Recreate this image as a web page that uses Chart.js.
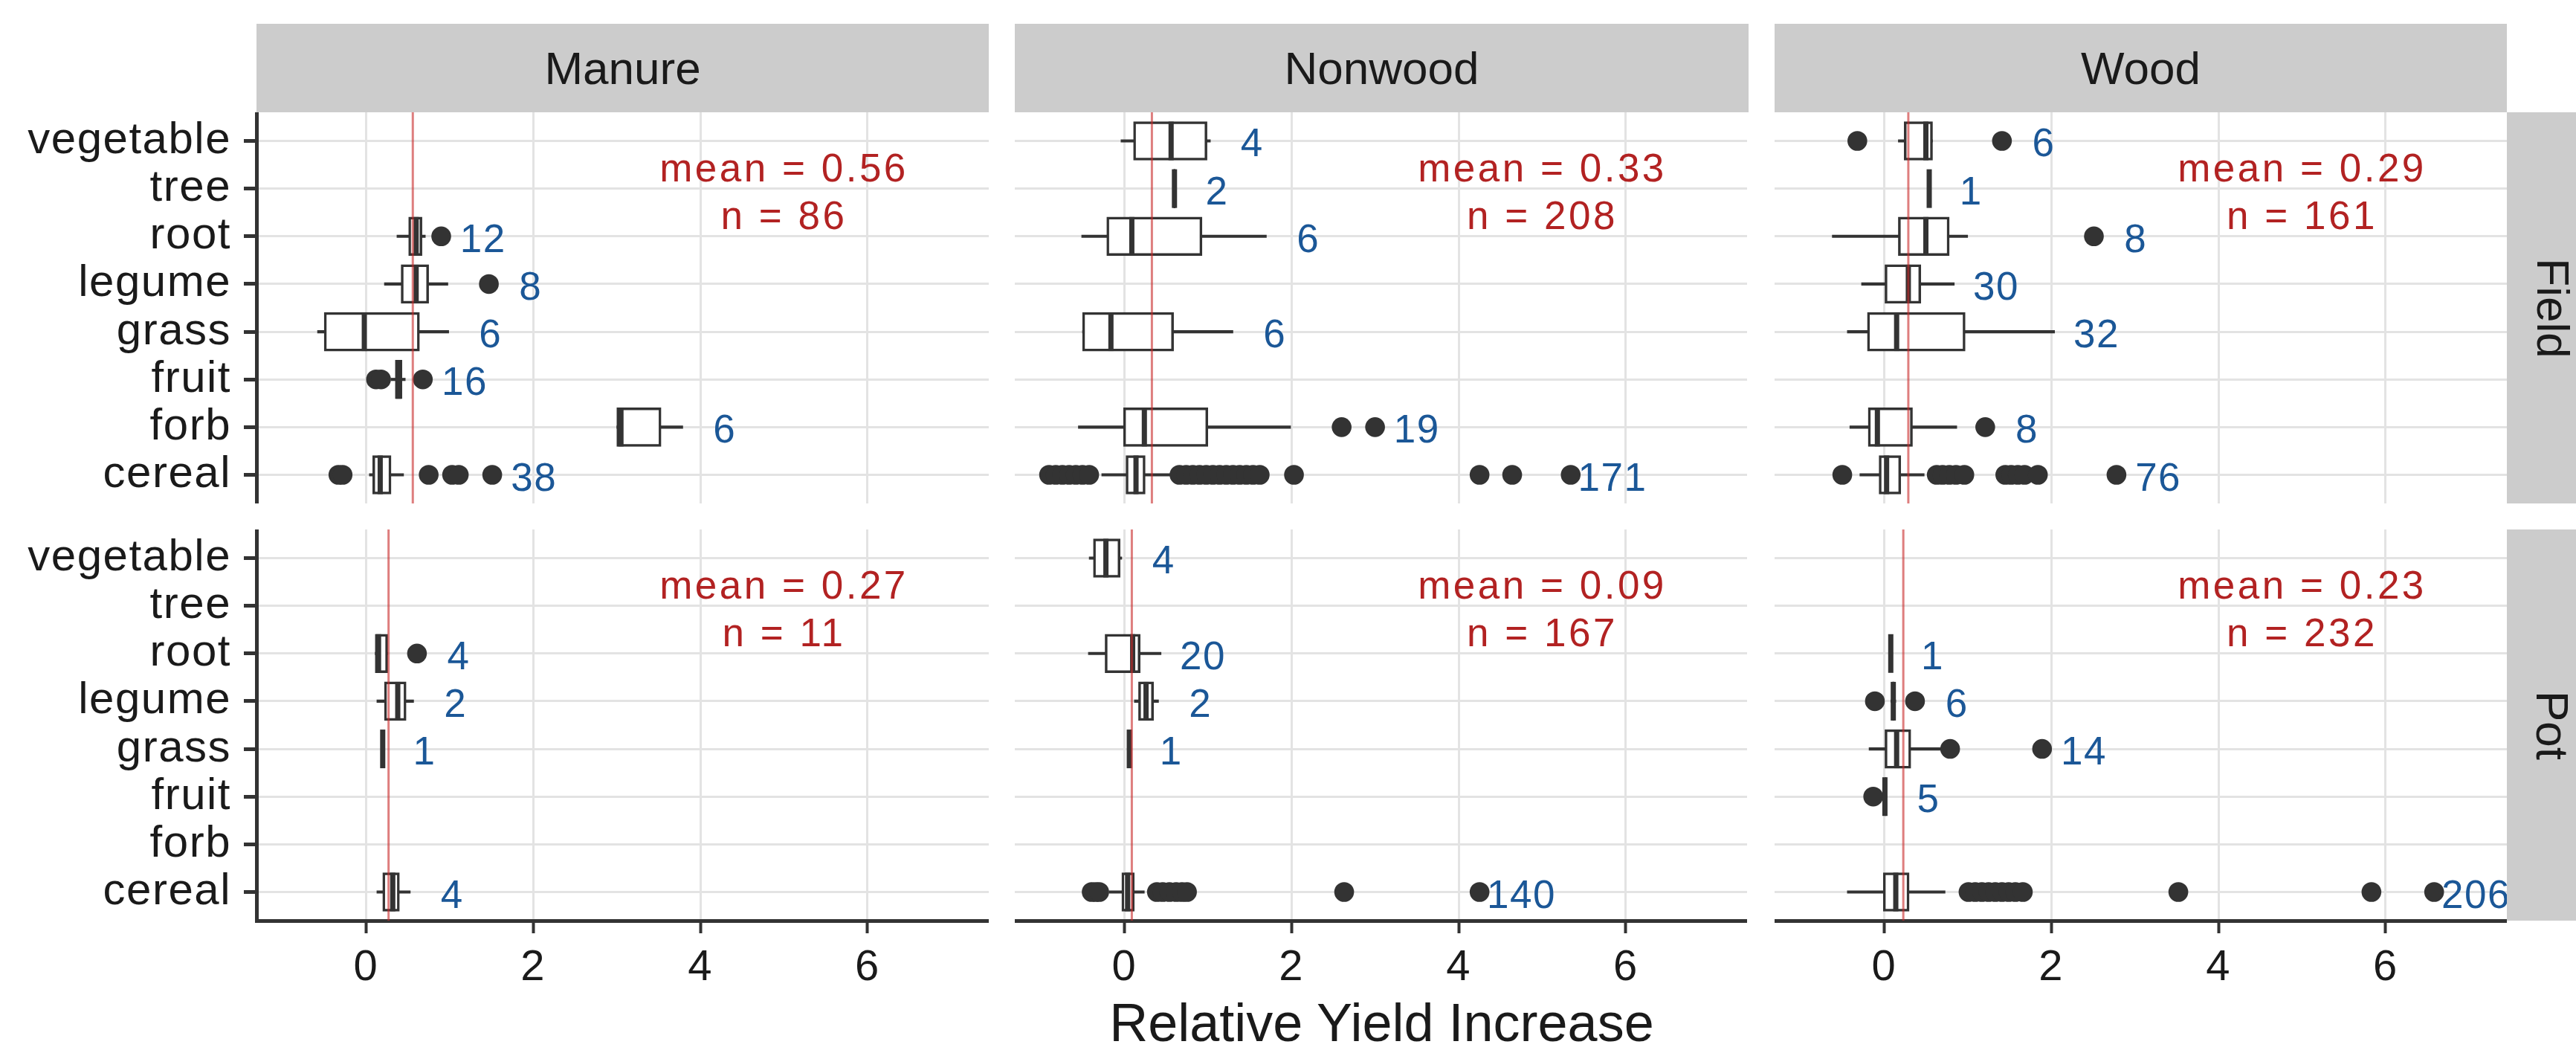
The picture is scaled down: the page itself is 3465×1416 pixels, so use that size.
<!DOCTYPE html>
<html>
<head>
<meta charset="utf-8">
<title>Relative Yield Increase</title>
<script src="https://cdn.jsdelivr.net/npm/chart.js@4.4.1/dist/chart.umd.min.js"></script>
<style>
  html, body { margin: 0; padding: 0; background: #ffffff; }
  body {
    width: 3465px; height: 1416px; position: relative; overflow: hidden;
    font-family: "Liberation Sans", Arial, Helvetica, sans-serif; color: #1a1a1a;
  }
  .panel { position: absolute; }
  .strip {
    position: absolute; background: #cccccc; color: #1a1a1a;
    display: flex; align-items: center; justify-content: center;
    font-size: 62px; white-space: nowrap;
  }
  .strip.side span { display: inline-block; transform: rotate(90deg); }
  #xtitle {
    position: absolute; left: 345px; width: 3027px; top: 1339px;
    text-align: center; font-size: 72px; line-height: 72px; color: #1a1a1a;
  }
</style>
</head>
<body>

<div class="strip" style="left:345px; top:32px; width:985px; height:119px;">Manure</div>
<div class="strip" style="left:1365px; top:32px; width:987px; height:119px;">Nonwood</div>
<div class="strip" style="left:2387px; top:32px; width:985px; height:119px;">Wood</div>
<div class="strip side" style="left:3372px; top:151px; width:124px; height:526px;"><span>Field</span></div>
<div class="strip side" style="left:3372px; top:712px; width:124px; height:526px;"><span>Pot</span></div>

<div class="panel" style="left:0px; top:151px; width:1330px; height:526px;"><canvas id="fieldManure"></canvas></div>
<div class="panel" style="left:1365px; top:151px; width:985px; height:526px;"><canvas id="fieldNonwood"></canvas></div>
<div class="panel" style="left:2387px; top:151px; width:985px; height:526px;"><canvas id="fieldWood"></canvas></div>
<div class="panel" style="left:0px; top:712px; width:1330px; height:626px;"><canvas id="potManure"></canvas></div>
<div class="panel" style="left:1365px; top:712px; width:985px; height:626px;"><canvas id="potNonwood"></canvas></div>
<div class="panel" style="left:2387px; top:712px; width:985px; height:626px;"><canvas id="potWood"></canvas></div>

<div id="xtitle">Relative Yield Increase</div>

<script>
// crop types, bottom to top
var categories = ['cereal', 'forb', 'fruit', 'grass', 'legume', 'root', 'tree', 'vegetable'];
var amendments = ['Manure', 'Nonwood', 'Wood'];
var settings = ['Field', 'Pot'];
var xTicks = [0, 2, 4, 6];

var fieldMeans = [0.56, 0.33, 0.29];
var potMeans = [0.27, 0.09, 0.23];
var fieldTotals = [86, 208, 161];
var potTotals = [11, 167, 232];

// row: crop, whisker low, q1, median, q3, whisker high, n, outliers
var fieldManure = [
  ['root', 0.37, 0.51, 0.60, 0.67, 0.71, 12, [0.90]],
  ['legume', 0.22, 0.42, 0.60, 0.75, 0.98, 8, [1.47]],
  ['grass', -0.58, -0.50, -0.02, 0.64, 0.99, 6, []],
  ['fruit', 0.30, 0.35, 0.39, 0.43, 0.47, 16, [0.12, 0.18, 0.68]],
  ['forb', 3.00, 3.00, 3.05, 3.53, 3.79, 6, []],
  ['cereal', 0.04, 0.08, 0.17, 0.30, 0.45, 38, [-0.33, -0.28, 0.75, 1.03, 1.11, 1.51]]
];
var fieldNonwood = [
  ['vegetable', -0.04, 0.11, 0.56, 0.99, 1.03, 4, []],
  ['tree', 0.59, 0.59, 0.60, 0.61, 0.61, 2, []],
  ['root', -0.51, -0.21, 0.09, 0.93, 1.70, 6, []],
  ['grass', -0.50, -0.50, -0.16, 0.59, 1.30, 6, []],
  ['forb', -0.55, -0.01, 0.24, 1.00, 1.99, 19, [2.60, 3.00]],
  ['cereal', -0.27, 0.02, 0.14, 0.25, 0.57, 171,
    [-0.90, -0.82, -0.74, -0.66, -0.58, -0.50, -0.42, 0.66, 0.74, 0.82, 0.90, 0.98,
     1.06, 1.14, 1.22, 1.30, 1.38, 1.46, 1.54, 1.62, 2.03, 4.25, 4.64, 5.34]]
];
var fieldWood = [
  ['vegetable', 0.17, 0.24, 0.50, 0.58, 0.58, 6, [-0.32, 1.41]],
  ['tree', 0.54, 0.54, 0.54, 0.54, 0.54, 1, []],
  ['root', -0.62, 0.17, 0.50, 0.78, 1.00, 8, [2.51]],
  ['legume', -0.27, 0.01, 0.29, 0.44, 0.84, 30, []],
  ['grass', -0.44, -0.20, 0.15, 0.97, 2.04, 32, []],
  ['forb', -0.41, -0.19, -0.08, 0.34, 0.87, 8, [1.21]],
  ['cereal', -0.29, -0.06, 0.03, 0.20, 0.48, 76,
    [-0.50, 0.63, 0.70, 0.78, 0.86, 0.96, 1.45, 1.52, 1.60, 1.68, 1.84, 2.78]]
];
var potManure = [
  ['root', 0.11, 0.11, 0.15, 0.26, 0.26, 4, [0.61]],
  ['legume', 0.13, 0.22, 0.38, 0.48, 0.57, 2, []],
  ['grass', 0.20, 0.20, 0.20, 0.20, 0.20, 1, []],
  ['cereal', 0.13, 0.20, 0.32, 0.40, 0.53, 4, []]
];
var potNonwood = [
  ['vegetable', -0.42, -0.37, -0.22, -0.05, -0.03, 4, []],
  ['root', -0.43, -0.23, 0.10, 0.19, 0.44, 20, []],
  ['legume', 0.12, 0.17, 0.26, 0.35, 0.41, 2, []],
  ['grass', 0.06, 0.06, 0.06, 0.06, 0.06, 1, []],
  ['cereal', -0.18, -0.03, 0.04, 0.12, 0.24, 140,
    [-0.39, -0.34, -0.30, 0.39, 0.46, 0.54, 0.62, 0.69, 0.75, 2.63, 4.25]]
];
var potWood = [
  ['root', 0.08, 0.08, 0.08, 0.08, 0.08, 1, []],
  ['legume', 0.08, 0.10, 0.11, 0.12, 0.14, 6, [-0.11, 0.37]],
  ['grass', -0.18, 0.01, 0.15, 0.32, 0.70, 14, [0.79, 1.89]],
  ['fruit', 0.00, 0.00, 0.01, 0.02, 0.03, 5, [-0.13]],
  ['cereal', -0.44, -0.01, 0.14, 0.30, 0.73, 206,
    [1.01, 1.09, 1.17, 1.25, 1.33, 1.41, 1.49, 1.57, 1.66, 3.52, 5.83, 6.58]]
];

var fontFamily = '"Liberation Sans", Arial, Helvetica, sans-serif';
var axisColor = '#333333';
var gridColor = '#e3e3e3';
var boxColor = '#333333';
var countColor = '#1b5797';
var meanColor = '#b22222';
var xMin = -1.31, xMax = 7.45;
var yMin = 0.4, yMax = 8.6;

Chart.defaults.font.family = fontFamily;

function catPos(name) {
  return categories.indexOf(name) + 1;
}

// slightly looser letter spacing, as in the original device fonts
var looseText = {
  id: 'looseText',
  beforeDraw: function (chart) {
    chart.ctx.letterSpacing = '1.5px';
  }
};

// counts next to each box and the mean / n note
var panelText = {
  id: 'panelText',
  afterDatasetsDraw: function (chart, args, opts) {
    var ctx = chart.ctx;
    var xs = chart.scales.x;
    var ys = chart.scales.y;
    ctx.save();
    ctx.textAlign = 'center';
    ctx.textBaseline = 'alphabetic';

    ctx.font = '53px ' + fontFamily;
    ctx.letterSpacing = '1.5px';
    ctx.fillStyle = countColor;
    opts.rows.forEach(function (r) {
      var top = Math.max.apply(null, [r[5]].concat(r[7]));
      ctx.fillText(String(r[6]), xs.getPixelForValue(top + 0.5), ys.getPixelForValue(catPos(r[0])) + 21);
    });

    ctx.font = '53px ' + fontFamily;
    ctx.letterSpacing = '3.5px';
    ctx.fillStyle = meanColor;
    var mx = xs.getPixelForValue(5);
    var my = ys.getPixelForValue(catPos('tree'));
    ctx.fillText('mean = ' + opts.mean.toFixed(2), mx, my - 10);
    ctx.fillText('n = ' + opts.total, mx, my + 54);
    ctx.restore();
  }
};

function makePanel(canvasId, rows, mean, total, isLeft, isBottom) {
  var whiskers = rows.map(function (r) { return { y: catPos(r[0]), x: [r[1], r[5]] }; });
  var boxes = rows.map(function (r) { return { y: catPos(r[0]), x: [r[2], r[4]] }; });
  var medians = rows.map(function (r) { return { x: r[3], y: catPos(r[0]) }; });
  var outliers = [];
  rows.forEach(function (r) {
    r[7].forEach(function (v) { outliers.push({ x: v, y: catPos(r[0]) }); });
  });

  var ctx = document.getElementById(canvasId).getContext('2d');
  return new Chart(ctx, {
    type: 'scatter',
    data: {
      datasets: [
        {
          type: 'scatter',
          label: 'mean',
          data: [{ x: mean, y: yMin }, { x: mean, y: yMax }],
          showLine: true,
          borderColor: 'rgba(200, 40, 40, 0.6)',
          borderWidth: 3,
          pointRadius: 0,
          order: 0
        },
        {
          type: 'scatter',
          label: 'outliers',
          data: outliers,
          pointRadius: 13.3,
          pointBackgroundColor: boxColor,
          pointBorderWidth: 0,
          order: 1
        },
        {
          type: 'scatter',
          label: 'median',
          data: medians,
          pointStyle: 'line',
          pointRotation: 90,
          pointRadius: 26,
          pointBorderColor: boxColor,
          pointBorderWidth: 7,
          order: 2
        },
        {
          type: 'bar',
          label: 'box',
          indexAxis: 'y',
          data: boxes,
          backgroundColor: '#ffffff',
          borderColor: boxColor,
          borderWidth: 3.5,
          borderSkipped: false,
          barThickness: 52,
          grouped: false,
          order: 3
        },
        {
          type: 'bar',
          label: 'whisker',
          indexAxis: 'y',
          data: whiskers,
          backgroundColor: boxColor,
          borderWidth: 0,
          barThickness: 3.5,
          grouped: false,
          order: 4
        }
      ]
    },
    options: {
      responsive: true,
      maintainAspectRatio: false,
      animation: false,
      events: [],
      layout: { padding: 0, autoPadding: false },
      plugins: {
        legend: { display: false },
        tooltip: { enabled: false },
        panelText: { rows: rows, mean: mean, total: total }
      },
      scales: {
        x: {
          type: 'linear',
          position: 'bottom',
          min: xMin,
          max: xMax,
          bounds: 'data',
          offset: false,
          afterBuildTicks: function (scale) {
            scale.ticks = xTicks.map(function (v) { return { value: v }; });
          },
          afterFit: function (scale) {
            scale.height = isBottom ? 100 : 0;
            scale.paddingLeft = 0;
            scale.paddingRight = 0;
          },
          grid: {
            color: gridColor,
            lineWidth: 3,
            offset: false,
            drawTicks: isBottom,
            tickLength: 17,
            tickColor: axisColor,
            tickWidth: 4
          },
          border: { display: isBottom, color: axisColor, width: 5 },
          ticks: {
            display: isBottom,
            autoSkip: false,
            maxRotation: 0,
            padding: 12,
            color: '#1a1a1a',
            font: { size: 58 }
          }
        },
        y: {
          type: 'linear',
          position: 'left',
          min: yMin,
          max: yMax,
          bounds: 'data',
          offset: false,
          afterBuildTicks: function (scale) {
            scale.ticks = categories.map(function (c, i) { return { value: i + 1 }; });
          },
          afterFit: function (scale) {
            scale.width = isLeft ? 345 : 0;
            scale.paddingTop = 0;
            scale.paddingBottom = 0;
          },
          grid: {
            color: gridColor,
            lineWidth: 3,
            offset: false,
            drawTicks: isLeft,
            tickLength: 17,
            tickColor: axisColor,
            tickWidth: 5
          },
          border: { display: isLeft, color: axisColor, width: 5 },
          ticks: {
            display: isLeft,
            autoSkip: false,
            padding: 17,
            color: '#1a1a1a',
            font: { size: 60 },
            callback: function (value) {
              return categories[Math.round(value) - 1];
            }
          }
        }
      }
    },
    plugins: [looseText, panelText]
  });
}

makePanel('fieldManure', fieldManure, fieldMeans[0], fieldTotals[0], true, false);
makePanel('fieldNonwood', fieldNonwood, fieldMeans[1], fieldTotals[1], false, false);
makePanel('fieldWood', fieldWood, fieldMeans[2], fieldTotals[2], false, false);
makePanel('potManure', potManure, potMeans[0], potTotals[0], true, true);
makePanel('potNonwood', potNonwood, potMeans[1], potTotals[1], false, true);
makePanel('potWood', potWood, potMeans[2], potTotals[2], false, true);
</script>
</body>
</html>
